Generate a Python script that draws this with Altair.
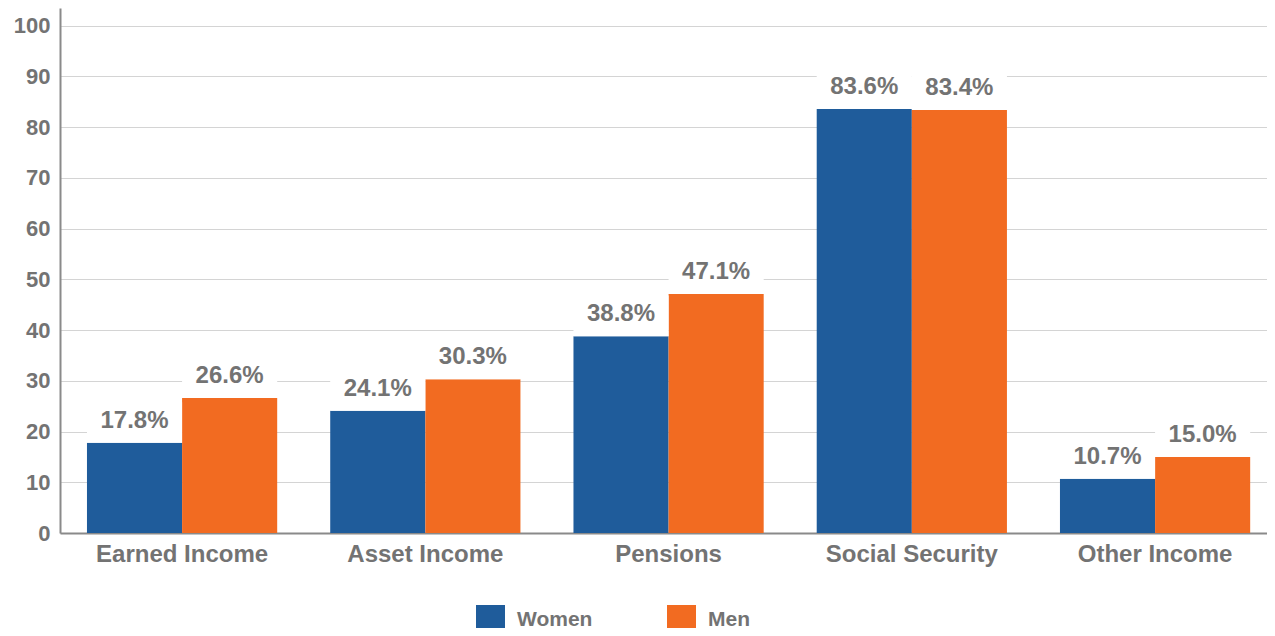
import altair as alt
import pandas as pd

categories = ["Earned Income", "Asset Income", "Pensions", "Social Security", "Other Income"]
groups = ["Women", "Men"]
women = [17.8, 24.1, 38.8, 83.6, 10.7]
men = [26.6, 30.3, 47.1, 83.4, 15.0]
colors = ["#1F5C9B", "#F26B21"]
y_ticks = list(range(0, 101, 10))

rows = []
for i, c in enumerate(categories):
    rows.append({"category": c, "group": "Women", "value": women[i], "label": f"{women[i]:.1f}%"})
    rows.append({"category": c, "group": "Men", "value": men[i], "label": f"{men[i]:.1f}%"})
df = pd.DataFrame(rows)

GRAY = "#737373"

base = alt.Chart(df).encode(
    x=alt.X("category:N", sort=categories,
            scale=alt.Scale(paddingInner=0.218, paddingOuter=0.09, align=0.616),
            axis=alt.Axis(title=None, labelAngle=0, ticks=False, domainColor="#8a8a8a",
                          domainWidth=2, labelFontSize=24, labelFontWeight="bold",
                          labelColor=GRAY, labelPadding=9, labelFont="Liberation Sans")),
    xOffset=alt.XOffset("group:N", sort=groups, scale=alt.Scale(paddingInner=0, paddingOuter=0)),
)

bars = base.mark_bar().encode(
    y=alt.Y("value:Q", scale=alt.Scale(domain=[0, 103.5], nice=False),
            axis=alt.Axis(title=None, values=y_ticks, ticks=False, domainColor="#8a8a8a",
                          domainWidth=2, gridColor="#d4d4d4", gridWidth=1,
                          labelFontSize=22, labelFontWeight="bold", labelColor=GRAY,
                          labelPadding=10, labelFont="Liberation Sans")),
    color=alt.Color("group:N", sort=groups, scale=alt.Scale(domain=groups, range=colors),
                    legend=alt.Legend(title=None, orient="none", direction="horizontal",
                                      legendX=416, legendY=597, symbolType="square",
                                      symbolSize=841, symbolStrokeWidth=0, symbolOpacity=1,
                                      labelFontSize=21, labelFontWeight="bold", labelColor=GRAY,
                                      labelFont="Liberation Sans", labelOffset=12,
                                      columnPadding=74)),
)

boxes = base.transform_calculate(top="datum.value + 8").mark_bar(color="white").encode(
    y="value:Q", y2="top:Q"
)

text = base.mark_text(dy=-22, fontSize=24, fontWeight="bold", color=GRAY,
                      font="Liberation Sans", baseline="middle").encode(
    y="value:Q", text="label:N"
)

chart = alt.layer(bars, boxes, text).properties(
    width=1207, height=525,
    autosize=alt.AutoSizeParams(type="none"),
    padding={"left": 52, "top": 0, "right": 0, "bottom": 95},
).configure_view(stroke=None)

chart.save("out.html", embed_options={"renderer": "svg", "actions": False})
